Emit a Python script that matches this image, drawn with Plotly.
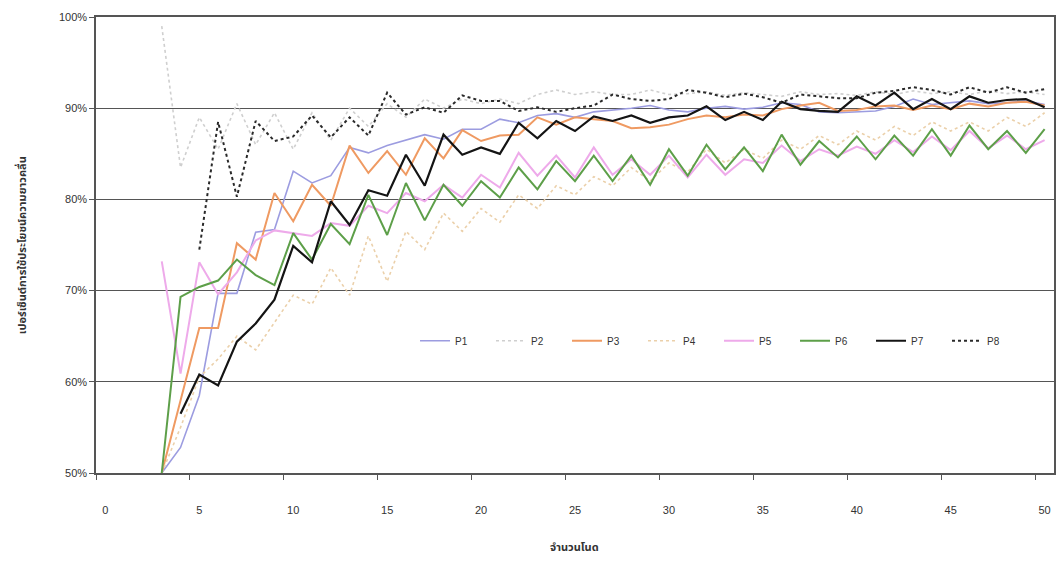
import plotly.graph_objects as go

nodes = list(range(3, 51))

p1 = [50, 52.8, 58.5, 69.7, 69.7, 76.4, 76.7, 83.1, 81.8, 82.6, 85.7, 85.1, 85.9, 86.5, 87.1, 86.6,
      87.7, 87.7, 88.8, 88.4, 89.2, 89.4, 89.0, 89.6, 89.8, 90.0, 90.3, 89.8, 89.6, 90.0, 90.2, 89.9,
      90.1, 90.6, 90.4, 89.6, 89.5, 89.6, 89.7, 90.2, 91.0, 90.4, 90.6, 90.8, 90.5, 90.6, 90.8, 90.4]
p2 = [99.0, 83.5, 89.0, 85.5, 90.5, 86.0, 89.5, 85.5, 89.5, 86.5, 90.0, 88.0, 90.5, 89.0, 91.0, 90.0,
      91.0, 90.5, 91.0, 90.5, 91.5, 92.0, 91.5, 91.8, 91.5, 91.5, 92.0, 91.5, 91.6, 91.8, 91.4, 91.7,
      91.5, 91.3, 91.8, 91.5, 91.6, 91.4, 91.8, 91.5, 91.9, 91.6, 91.8, 91.5, 91.9, 91.6, 91.8, 91.5]
p3 = [50, 58.0, 65.9, 65.9, 75.2, 73.4, 80.7, 77.6, 81.6, 79.3, 85.9, 82.9, 85.3, 82.7, 86.7, 84.5,
      87.6, 86.4, 87.0, 87.1, 89.0, 88.2, 89.0, 88.8, 88.6, 87.8, 87.9, 88.2, 88.8, 89.2, 89.0, 89.3,
      89.2, 89.9, 90.3, 90.6, 89.7, 89.8, 90.2, 90.3, 89.8, 90.3, 89.9, 90.5, 90.2, 90.6, 90.7, 90.3]
p4 = [50, 55.0, 60.5, 62.5, 65.0, 63.5, 66.5, 69.5, 68.5, 72.5, 69.5, 76.0, 71.0, 76.5, 74.5, 78.5,
      76.5, 79.0, 77.5, 80.5, 79.0, 81.5, 80.5, 82.5, 81.5, 83.5, 82.0, 84.0, 83.0, 85.5, 84.0, 85.5,
      84.5, 86.5, 85.5, 87.0, 86.0, 87.5, 86.5, 88.0, 87.0, 88.5, 87.5, 88.5, 87.5, 89.0, 88.0, 89.5]
p5 = [73.2, 60.9, 73.1, 69.6, 72.0, 75.5, 76.6, 76.3, 76.0, 77.4, 77.1, 79.3, 78.5, 80.7, 79.8, 81.6,
      80.2, 82.7, 81.3, 85.1, 82.6, 84.8, 82.4, 85.7, 82.7, 84.4, 82.7, 84.8, 82.4, 84.9, 82.7, 84.4,
      84.0, 85.9, 84.2, 85.5, 84.8, 85.8, 85.0, 86.5, 85.2, 86.9, 85.4, 87.5, 85.6, 87.0, 85.5, 86.5]
p6 = [50, 69.3, 70.4, 71.1, 73.4, 71.7, 70.6, 76.3, 73.4, 77.3, 75.1, 80.5, 76.1, 81.8, 77.7, 81.6,
      79.3, 82.0, 80.2, 83.5, 81.1, 84.2, 82.0, 84.8, 82.0, 84.8, 81.6, 85.5, 82.6, 86.0, 83.3, 85.7,
      83.1, 87.1, 83.8, 86.4, 84.6, 86.9, 84.4, 87.0, 84.8, 87.7, 84.8, 88.1, 85.5, 87.5, 85.1, 87.7]
p7 = [None, 56.5, 60.8, 59.6, 64.4, 66.4, 69.0, 74.9, 73.1, 79.8, 77.2, 81.0, 80.4, 84.9, 81.5, 87.1,
      84.9, 85.7, 85.0, 88.4, 86.7, 88.6, 87.5, 89.1, 88.6, 89.2, 88.4, 89.0, 89.2, 90.2, 88.7, 89.6,
      88.7, 90.7, 89.9, 89.7, 89.6, 91.3, 90.3, 91.7, 89.9, 91.0, 89.9, 91.3, 90.6, 90.9, 91.0, 90.1]
p8 = [None, None, 74.5, 88.5, 80.3, 88.6, 86.4, 86.9, 89.2, 86.8, 89.0, 87.0, 91.7, 89.3, 90.1, 89.5,
      91.4, 90.8, 90.8, 89.7, 90.1, 89.6, 90.0, 90.3, 91.5, 91.0, 90.8, 91.0, 92.0, 91.7, 91.2, 91.6,
      91.2, 90.6, 91.5, 91.3, 91.1, 91.1, 91.7, 91.9, 92.3, 92.0, 91.5, 92.3, 91.7, 92.3, 91.7, 92.1]

series_names = ["P1", "P2", "P3", "P4", "P5", "P6", "P7", "P8"]
series_values = [p1, p2, p3, p4, p5, p6, p7, p8]
x_ticks = list(range(0, 51, 5))
y_ticks = [50, 60, 70, 80, 90, 100]
x_title = "จำนวนโนด"
y_title = "เปอร์เซ็นต์การใช้ประโยชน์ความยาวคลื่น"

styles = {
    "P1": dict(color="#9c9ce0", width=1.6, dash="solid"),
    "P2": dict(color="#cfcfcf", width=1.6, dash="dot"),
    "P3": dict(color="#ef9a62", width=2.0, dash="solid"),
    "P4": dict(color="#ebd0aa", width=1.6, dash="dot"),
    "P5": dict(color="#eeaaea", width=2.0, dash="solid"),
    "P6": dict(color="#5d9f49", width=2.0, dash="solid"),
    "P7": dict(color="#141414", width=2.2, dash="solid"),
    "P8": dict(color="#2a2a2a", width=2.0, dash="dot"),
}

fig = go.Figure()
for name, vals in zip(series_names, series_values):
    fig.add_trace(go.Scatter(
        x=nodes, y=vals, mode="lines", name=name,
        line=styles[name], connectgaps=False,
    ))

thai_font = "Noto Sans Thai, Loma, Garuda, Tlwg Typist, DejaVu Sans, sans-serif"

fig.update_layout(
    width=1061, height=572,
    margin=dict(l=96, r=5, t=17, b=99),
    paper_bgcolor="white", plot_bgcolor="white",
    font=dict(family="Liberation Sans, Arial, sans-serif", size=11, color="#333333"),
    showlegend=True,
    legend=dict(
        orientation="h", x=0.333, xanchor="left", y=0.29, yanchor="middle",
        bgcolor="rgba(255,255,255,0)", font=dict(size=10, color="#333333"),
        traceorder="normal", entrywidth=31, entrywidthmode="pixels",
    ),
    xaxis=dict(
        range=[-0.5, 50.5], tickmode="array", tickvals=x_ticks,
        ticktext=[str(v) for v in x_ticks],
        ticks="outside", ticklen=26, tickcolor="rgba(0,0,0,0)",
        showgrid=False, zeroline=False,
        showline=True, linecolor="#555555", linewidth=1.5, mirror=True,
        minor=dict(tickmode="array", tickvals=[v - 0.5 for v in x_ticks],
                   ticks="outside", ticklen=5, tickcolor="#555555", showgrid=False),
    ),
    yaxis=dict(
        range=[50, 100], tickmode="array", tickvals=y_ticks,
        ticktext=[f"{v}%" for v in y_ticks],
        ticks="outside", ticklen=5, tickcolor="#555555",
        showgrid=True, gridcolor="#555555", gridwidth=1,
        zeroline=False,
        showline=True, linecolor="#555555", linewidth=1.5, mirror=True,
    ),
    annotations=[
        dict(text=f"<b>{x_title}</b>", xref="paper", yref="paper", x=0.499, y=-0.164,
             showarrow=False, xanchor="center", yanchor="middle",
             font=dict(family=thai_font, size=11, color="#333333")),
        dict(text=f"<b>{y_title}</b>", xref="paper", yref="paper", x=-0.077, y=0.5,
             showarrow=False, xanchor="center", yanchor="middle", textangle=-90,
             font=dict(family=thai_font, size=11, color="#333333")),
    ],
)

fig.write_html("out.html")
